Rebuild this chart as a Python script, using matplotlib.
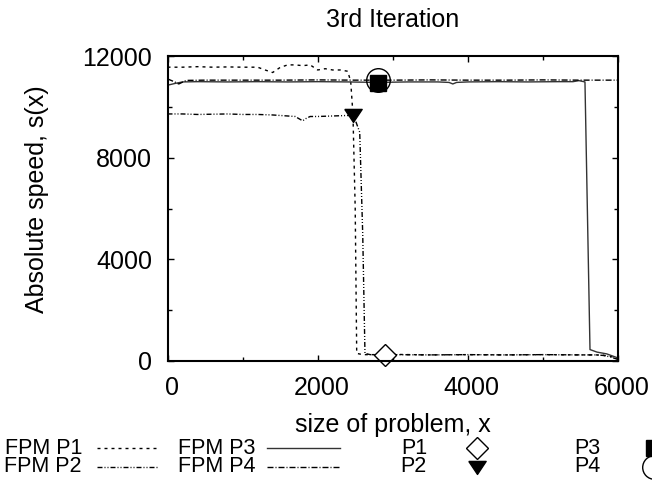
import matplotlib
matplotlib.use("Agg")
import matplotlib.pyplot as plt
from matplotlib.lines import Line2D
from matplotlib.transforms import ScaledTranslation

plt.rcParams['font.family'] = ['Liberation Sans', 'DejaVu Sans']

# FPM curves
x_p1 = [0, 200, 400, 600, 800, 1000, 1200, 1300, 1400, 1500, 1600, 1700, 1800, 1900,
        2000, 2100, 2200, 2300, 2400, 2440, 2470, 2500, 2520, 2600, 2800, 3000, 3500,
        4000, 4500, 5000, 5500, 5700, 5800, 5900, 6000]
y_p1 = [11560, 11560, 11580, 11560, 11570, 11560, 11560, 11450, 11350, 11550, 11650,
        11650, 11620, 11650, 11450, 11500, 11450, 11450, 11400, 11000, 9700, 6000, 300,
        250, 250, 260, 240, 250, 240, 250, 240, 240, 230, 180, 80]

x_p2 = [0, 200, 400, 600, 800, 1000, 1200, 1400, 1600, 1700, 1800, 1850, 1900, 2000,
        2200, 2400, 2480, 2560, 2600, 2630, 2700, 3000, 3500, 4000, 4500, 5000, 5500,
        5700, 5800, 5900, 6000]
y_p2 = [9720, 9720, 9700, 9710, 9720, 9700, 9700, 9680, 9640, 9620, 9450, 9550, 9620,
        9620, 9640, 9660, 9650, 9000, 5000, 300, 250, 250, 240, 250, 240, 250, 240,
        240, 220, 160, 60]

x_p3 = [0, 100, 200, 400, 800, 1200, 1600, 2000, 2400, 2800, 3200, 3600, 3750, 3800,
        3850, 4000, 4400, 4800, 5200, 5400, 5480, 5560, 5627, 5720, 5850, 6000]
y_p3 = [10850, 10920, 10980, 10990, 10980, 10990, 10980, 10990, 10980, 10960, 10980,
        10980, 10960, 10900, 10960, 10980, 10990, 10980, 10990, 10990, 11030, 10980,
        450, 350, 280, 120]

x_p4 = [0, 80, 150, 250, 500, 1000, 1500, 2000, 2500, 3000, 3500, 4000, 4500, 5000,
        5500, 6000]
y_p4 = [11100, 11000, 10900, 11040, 11050, 11050, 11050, 11060, 11050, 11050, 11060,
        11050, 11050, 11060, 11050, 11050]

# single points
pts_x = [2900, 2470, 2800, 2800]
pts_y = [240, 9680, 10950, 11050]

xticks = [0, 2000, 4000, 6000]
yticks = [0, 4000, 8000, 12000]

W, H = 652, 480
fig = plt.figure(figsize=(W / 100, H / 100), dpi=100)
ax = fig.add_axes([167.5 / W, 1 - 361 / H, 450.5 / W, 305 / H])

px = 0.72
sty = {
    'FPM P1': dict(color='black', lw=1.0, dashes=(3 * px, 4 * px)),
    'FPM P2': dict(color='black', lw=1.0, dashes=(5 * px, 2 * px, 1 * px, 2 * px, 1 * px, 2 * px)),
    'FPM P3': dict(color='#333333', lw=1.0, linestyle='-'),
    'FPM P4': dict(color='black', lw=1.0, dashes=(6 * px, 2 * px, 1 * px, 2 * px)),
}
ax.plot(x_p1, y_p1, **sty['FPM P1'])
ax.plot(x_p2, y_p2, **sty['FPM P2'])
ax.plot(x_p3, y_p3, **sty['FPM P3'])
ax.plot(x_p4, y_p4, **sty['FPM P4'])

tri = [(-1, 0.7), (1, 0.7), (0, -0.8), (-1, 0.7)]
mk = [
    dict(marker='D', ms=11.5, mfc='white', mec='black', mew=1.0),
    dict(marker=tri, ms=12.5, mfc='black', mec='black'),
    dict(marker='s', ms=12, mfc='black', mec='black'),
    dict(marker='o', ms=17, mfc='none', mec='black', mew=1.0),
]
for i in range(4):
    ax.plot(pts_x[i], pts_y[i], linestyle='none', clip_on=False, **mk[i])

ax.set_xlim(0, 6000)
ax.set_ylim(0, 12000)
ax.set_xticks(xticks)
ax.set_yticks(yticks)
ax.set_xticks([1000, 3000, 5000], minor=True)
ax.set_yticks([2000, 6000, 10000], minor=True)
ax.tick_params(which='both', direction='in', top=True, right=True, labelsize=18)
ax.tick_params(which='major', length=4.3, width=1)
ax.tick_params(which='minor', length=3, width=1)
ax.tick_params(axis='x', pad=11)
ax.tick_params(axis='y', pad=11)
for s in ax.spines.values():
    s.set_linewidth(1.5)

# gnuplot puts the x labels a few pixels right of the tick
shift = ScaledTranslation(0.04, 0, fig.dpi_scale_trans)
for lab in ax.get_xticklabels():
    lab.set_transform(lab.get_transform() + shift)

ax.set_title('3rd Iteration', fontsize=18, pad=21)
ax.set_xlabel('size of problem, x', fontsize=18)
ax.xaxis.set_label_coords(0.5, -0.17)
ax.set_ylabel('Absolute speed, s(x)', fontsize=18, va='center')
ax.yaxis.set_label_coords(-0.289, 0.531)

# key below the plot, gnuplot style (text then sample)
def fx(p):
    return p / W

def fy(p):
    return 1 - p / H

rows = [448, 467]
line_keys = [['FPM P1', 'FPM P2'], ['FPM P3', 'FPM P4']]
line_cols = [(82, 97, 157), (255, 267, 340)]
for c, (tx, l0, l1) in enumerate(line_cols):
    for r, name in enumerate(line_keys[c]):
        fig.text(fx(tx), fy(rows[r]), name, ha='right', va='center', fontsize=15.5)
        fig.add_artist(Line2D([fx(l0), fx(l1)], [fy(rows[r]), fy(rows[r])],
                              transform=fig.transFigure, **sty[name]))

pt_keys = [['P1', 'P2'], ['P3', 'P4']]
pt_cols = [(427, 477), (600, 653.5)]
for c, (tx, mx) in enumerate(pt_cols):
    for r, name in enumerate(pt_keys[c]):
        fig.text(fx(tx), fy(rows[r]), name, ha='right', va='center', fontsize=15.5)
        fig.add_artist(Line2D([fx(mx)], [fy(rows[r])], transform=fig.transFigure,
                              linestyle='none', **mk[2 * c + r]))

fig.savefig('out.png', dpi=100)
